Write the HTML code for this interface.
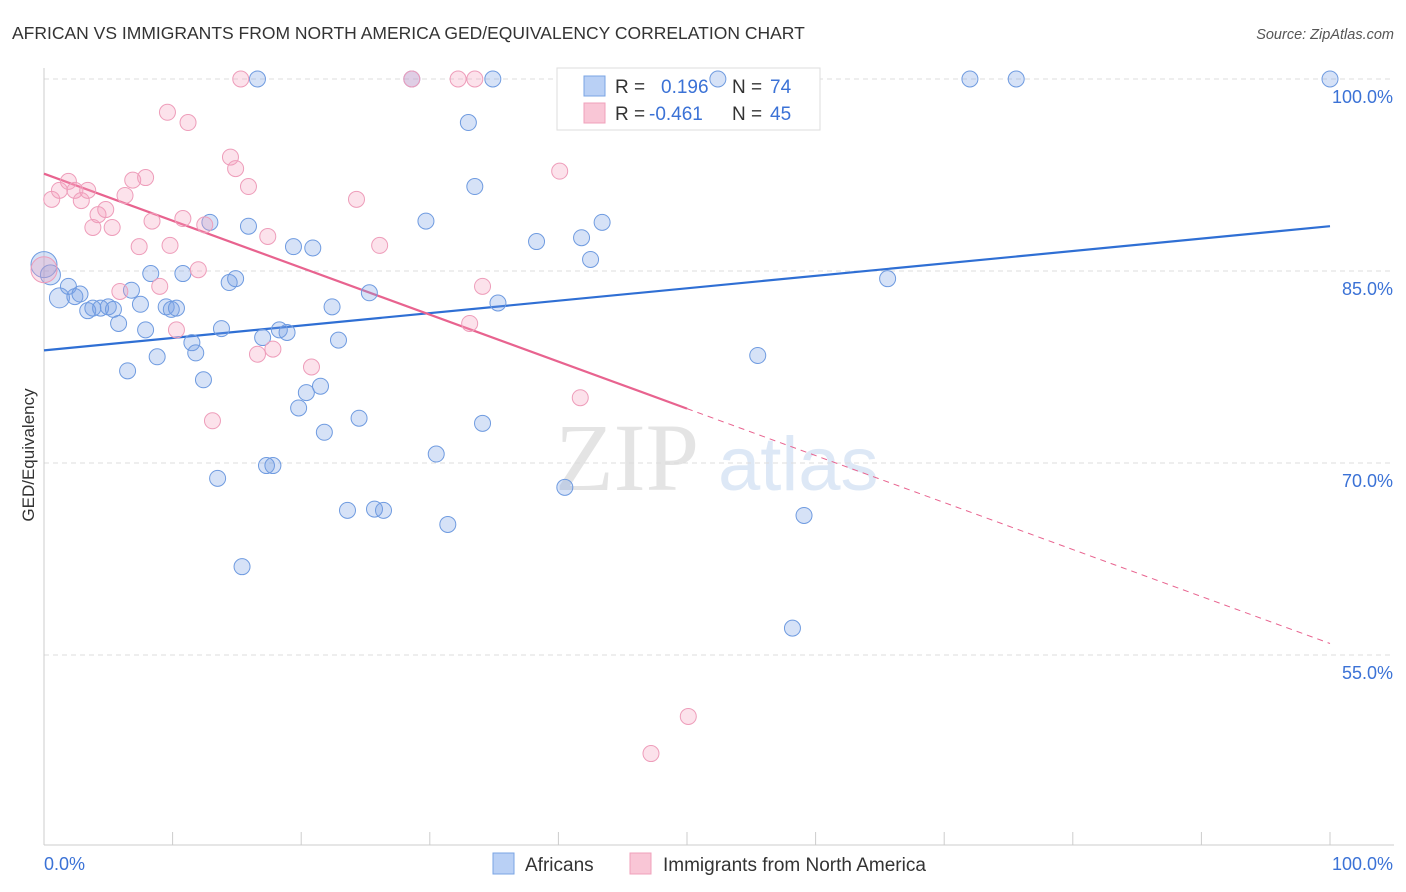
<!DOCTYPE html>
<html><head><meta charset="utf-8"><style>
body{margin:0;background:#fff;font-family:"Liberation Sans",sans-serif;}
#c{position:relative;width:1406px;height:892px;overflow:hidden;}
</style></head><body>
<div id="c">
<svg id="s" width="1406" height="892" xmlns="http://www.w3.org/2000/svg">
<text x="12" y="39" font-size="17.5" fill="#333">AFRICAN VS IMMIGRANTS FROM NORTH AMERICA GED/EQUIVALENCY CORRELATION CHART</text>
<text x="1394" y="39" font-size="14.5" fill="#555" font-style="italic" text-anchor="end">Source: ZipAtlas.com</text>
<text transform="translate(34,455) rotate(-90)" font-size="17" fill="#333" text-anchor="middle">GED/Equivalency</text>
<g>
<text x="555" y="490" font-family="Liberation Serif,serif" font-size="96" fill="#e4e4e4">ZIP</text>
<text x="718" y="490" font-size="76" fill="#dde8f6">atlas</text>
</g>
<g id="grid"></g><g id="axes"></g><g id="trend"></g>
<g>
<rect x="557" y="68" width="263" height="62" fill="#fff" stroke="#ddd"/>
<rect x="584" y="76" width="21" height="20" fill="#b9d0f5" stroke="#7aa4e4"/>
<rect x="584" y="103" width="21" height="20" fill="#f9c6d6" stroke="#f0a0bb"/>
<text x="615" y="93" font-size="19" fill="#333">R = <tspan x="661" fill="#3b72d6">0.196</tspan><tspan x="732" fill="#333">N = </tspan><tspan x="770" fill="#3b72d6">74</tspan></text>
<text x="615" y="120" font-size="19" fill="#333">R = <tspan x="649" fill="#3b72d6">-0.461</tspan><tspan x="732" fill="#333">N = </tspan><tspan x="770" fill="#3b72d6">45</tspan></text>
</g>
<g id="pts"></g>
<g>
<rect x="493" y="853" width="21" height="21" fill="#b9d0f5" stroke="#7aa4e4"/>
<text x="525" y="871" font-size="19" fill="#333">Africans</text>
<rect x="630" y="853" width="21" height="21" fill="#f9c6d6" stroke="#f0a0bb"/>
<text x="663" y="871" font-size="19" fill="#333">Immigrants from North America</text>
</g>
</svg>
</div>
<script>
const yTicks=[100,85,70,55];
const yTickLabels=["100.0%","85.0%","70.0%","55.0%"];
const xTickLabels=["0.0%","100.0%"];
const africansX=[0,0.5,1.2,1.9,2.4,2.8,3.4,3.8,4.4,5.0,5.4,5.8,6.5,6.8,7.5,7.9,8.3,8.8,9.5,9.9,10.3,10.8,11.5,11.8,12.4,12.9,13.5,13.8,14.4,14.9,15.4,15.9,16.6,17.0,17.3,17.8,18.3,18.9,19.4,19.8,20.4,20.9,21.5,21.8,22.4,22.9,23.6,24.5,25.3,25.7,26.4,28.6,29.7,30.5,31.4,33.0,33.5,34.1,34.9,35.3,38.3,40.5,41.8,42.5,43.4,52.4,55.5,58.2,59.1,65.6,72.0,75.6,100];
const africansY=[85.5,84.7,82.9,83.8,83.0,83.2,81.9,82.1,82.1,82.2,82.0,80.9,77.2,83.5,82.4,80.4,84.8,78.3,82.2,82.0,82.1,84.8,79.4,78.6,76.5,88.8,68.8,80.5,84.1,84.4,61.9,88.5,100,79.8,69.8,69.8,80.4,80.2,86.9,74.3,75.5,86.8,76.0,72.4,82.2,79.6,66.3,73.5,83.3,66.4,66.3,100,88.9,70.7,65.2,96.6,91.6,73.1,100,82.5,87.3,68.1,87.6,85.9,88.8,100,78.4,57.1,65.9,84.4,100,100,100];
const immX=[0,0.6,1.2,1.9,2.4,2.9,3.4,3.8,4.2,4.8,5.3,5.9,6.3,6.9,7.4,7.9,8.4,9.0,9.6,9.8,10.3,10.8,11.2,12.0,12.5,13.1,14.5,14.9,15.3,15.9,16.6,17.4,17.8,20.8,24.3,26.1,28.6,32.2,33.1,33.5,34.1,40.1,41.7,47.2,50.1];
const immY=[85.1,90.6,91.3,92.0,91.3,90.5,91.3,88.4,89.4,89.8,88.4,83.4,90.9,92.1,86.9,92.3,88.9,83.8,97.4,87.0,80.4,89.1,96.6,85.1,88.6,73.3,93.9,93.0,100,91.6,78.5,87.7,78.9,77.5,90.6,87.0,100,100,80.9,100,83.8,92.8,75.1,47.3,50.2];
const blueTrend=[78.8,88.5];
const pinkTrend=[92.6,55.9];
const pinkSolidEnd=50;
const NS="http://www.w3.org/2000/svg";
const X=v=>44+v*12.86, Y=v=>79+(100-v)*12.8;
function mk(tag,at,parent){const e=document.createElementNS(NS,tag);for(const k in at)e.setAttribute(k,at[k]);document.getElementById(parent).appendChild(e);return e;}
yTicks.forEach((t,i)=>{
 const l=mk('line',{x1:44,x2:1394,y1:Y(t),y2:Y(t),stroke:'#ddd','stroke-dasharray':'5,4'},'grid');
 
 
 const tx=mk('text',{x:1393,y:Y(t)+24,'font-size':18,fill:'#3b72d6','text-anchor':'end'},'grid');
 tx.textContent=yTickLabels[i];
 
 
});
let a=mk('line',{x1:44,x2:44,y1:68,y2:845,stroke:'#ccc'},'axes');


a=mk('line',{x1:44,x2:1394,y1:845,y2:845,stroke:'#ccc'},'axes');


for(let i=0;i<=10;i++){
 const t=mk('line',{x1:X(i*10),x2:X(i*10),y1:832,y2:845,stroke:'#ccc'},'axes');
 
 
}
let xl=mk('text',{x:44,y:870,'font-size':18,fill:'#3b72d6'},'axes');xl.textContent=xTickLabels[0];


xl=mk('text',{x:1393,y:870,'font-size':18,fill:'#3b72d6','text-anchor':'end'},'axes');xl.textContent=xTickLabels[1];


africansX.forEach((x,i)=>{
 const c=mk('circle',{cx:X(x),cy:Y(africansY[i]),r:i==0?13:(i<3?10:8),fill:'rgba(120,160,230,0.3)',stroke:'#6f9be0','stroke-width':1},'pts');
 
 
});
immX.forEach((x,i)=>{
 const c=mk('circle',{cx:X(x),cy:Y(immY[i]),r:i==0?13:8,fill:'rgba(245,160,190,0.3)',stroke:'#ee9dba','stroke-width':1},'pts');
 
 
});
let tl=mk('line',{x1:X(0),y1:Y(blueTrend[0]),x2:X(100),y2:Y(blueTrend[1]),stroke:'#2f6fd4','stroke-width':2.2},'trend');


const pm=pinkTrend[0]+(pinkTrend[1]-pinkTrend[0])*pinkSolidEnd/100;
tl=mk('line',{x1:X(0),y1:Y(pinkTrend[0]),x2:X(pinkSolidEnd),y2:Y(pm),stroke:'#e8638f','stroke-width':2.2},'trend');


tl=mk('line',{x1:X(pinkSolidEnd),y1:Y(pm),x2:X(100),y2:Y(pinkTrend[1]),stroke:'#e8638f','stroke-width':1,'stroke-dasharray':'6,5'},'trend');


</script>
</body></html>
